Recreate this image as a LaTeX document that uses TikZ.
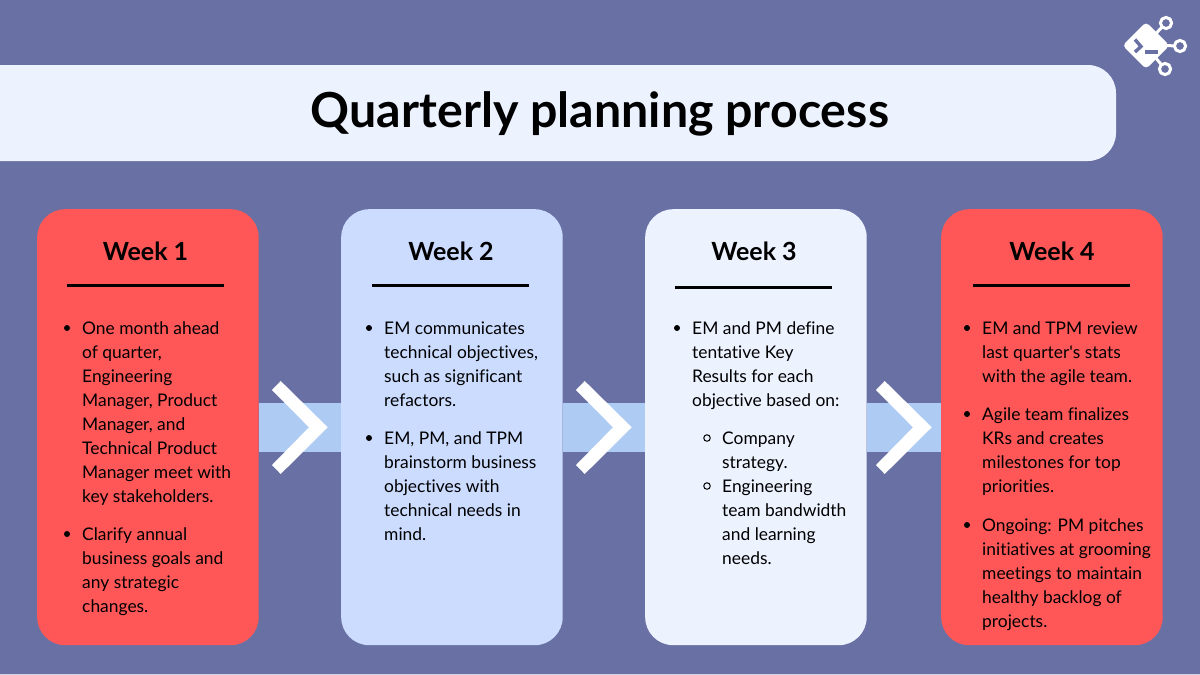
\documentclass[tikz,border=0pt]{standalone}
\usepackage{fontspec}
\setmainfont{Lato}[Ligatures=NoCommon]
\definecolor{bgc}{HTML}{6870A4}
\definecolor{redc}{HTML}{FF5757}
\definecolor{bluec}{HTML}{CBDCFF}
\definecolor{palec}{HTML}{EDF2FF}
\definecolor{bandc}{HTML}{AECBF3}
\tikzset{
  x=1pt,y=-1pt,
  card/.style={rounded corners=28pt,minimum width=221.5pt,minimum height=436pt,inner sep=0pt,anchor=north west},
  week/.style={font=\fontsize{25}{28}\selectfont\bfseries,text=black,inner sep=0pt},
  body/.style={font=\fontsize{17.4}{24}\selectfont,text=black,align=left,anchor=north west,inner sep=0pt},
  rulel/.style={draw=black,line width=3.4pt},
  bull/.style={circle,fill=black,minimum size=6pt,inner sep=0pt},
  subbull/.style={circle,draw=black,line width=1pt,minimum size=6.5pt,inner sep=0pt},
  band/.style={fill=bandc,draw=none},
  chev/.style={fill=white,draw=none},
}
\newcommand{\chevat}[1]{\fill[chev,shift={(#1,0)}] (280.7,381)--(327.7,427.3)--(280.7,474)--(272,465)--(309,427.3)--(272,390)--cycle;}
\begin{document}
\begin{tikzpicture}
\useasboundingbox (0,0) rectangle (1200,675);
\fill[bgc] (0,0) rectangle (1200,675);
\fill[white!70!bgc] (0,674) rectangle (1200,675);
% title
\fill[palec,rounded corners=28pt] (-60,65) rectangle (1116,161);
\node[font=\fontsize{48.3}{54}\selectfont\bfseries,text=black,inner sep=0pt,anchor=base] (title) at (600,127.5) {Quarterly planning process};
% cards
\node[card,fill=redc] (c1) at (37,209) {};
\node[card,fill=bluec] (c2) at (341,209) {};
\node[card,fill=palec] (c3) at (645,209) {};
\node[card,fill=redc] (c4) at (941,209) {};
% bands
\fill[band] (c1.east |- 0,403) rectangle (c2.west |- 0,452);
\fill[band] (c2.east |- 0,403) rectangle (c3.west |- 0,452);
\fill[band] (c3.east |- 0,403) rectangle (c4.west |- 0,452);
\chevat{0}\chevat{304}\chevat{604}
% headings
\node[week] (w1) at (145.5,251) {Week 1};
\node[week] (w2) at (451,251) {Week 2};
\node[week] (w3) at (754,251) {Week 3};
\node[week] (w4) at (1052,251) {Week 4};
\draw[rulel] (67,285.5) -- (224,285.5);
\draw[rulel] (372,285.5) -- (529,285.5);
\draw[rulel] (675,287.5) -- (832,287.5);
\draw[rulel] (973,285.5) -- (1130,285.5);
% card 1
\node[bull] (b11) at (67,328) {};
\node[body] (t11) at (82,321) {One month ahead\\of quarter,\\Engineering\\Manager, Product\\Manager, and\\Technical Product\\Manager meet with\\key stakeholders.};
\node[bull] (b12) at (67,534) {};
\node[body] (t12) at (82,527) {Clarify annual\\business goals and\\any strategic\\changes.};
% card 2
\node[bull] (b21) at (369,328) {};
\node[body] (t21) at (384,322) {EM communicates\\technical objectives,\\such as significant\\refactors.};
\node[bull] (b22) at (369,438) {};
\node[body] (t22) at (384,431) {EM, PM, and TPM\\brainstorm business\\objectives with\\technical needs in\\mind.};
% card 3
\node[bull] (b31) at (677,328) {};
\node[body] (t31) at (692,321) {EM and PM define\\tentative Key\\Results for each\\objective based on:};
\node[subbull] (b32) at (707,438) {};
\node[body] (t32) at (722,432) {Company\\strategy.};
\node[subbull] (b33) at (707,486) {};
\node[body] (t33) at (722,480) {Engineering\\team bandwidth\\and learning\\needs.};
% card 4
\node[bull] (b41) at (967,328) {};
\node[body] (t41) at (982,321) {EM and TPM review\\last quarter\textquotesingle s stats\\with the agile team.};
\node[bull] (b42) at (967,414) {};
\node[body] (t42) at (982,407) {Agile team finalizes\\KRs and creates\\milestones for top\\priorities.};
\node[bull] (b43) at (967,525) {};
\node[body] (t43) at (982,518) {Ongoing: PM pitches\\initiatives at grooming\\meetings to maintain\\healthy backlog of\\projects.};
% logo
\draw[white,line width=3pt] (1145,45)--(1166,23) (1145,45)--(1180,46) (1145,45)--(1165,69);
\filldraw[fill=bgc,draw=white,line width=3pt] (1166,23) circle (5.6pt) (1180,46) circle (5.6pt) (1165,69) circle (5.6pt);
\fill[white,rounded corners=4pt] (1146,22)--(1169.5,45.5)--(1146,69)--(1122.5,45.5)--cycle;
\draw[bgc,line width=3.4pt] (1135,39.5)--(1141,46.5)--(1135,52);
\draw[bgc,line width=3.4pt] (1145,52)--(1158,52);
\end{tikzpicture}
\end{document}
